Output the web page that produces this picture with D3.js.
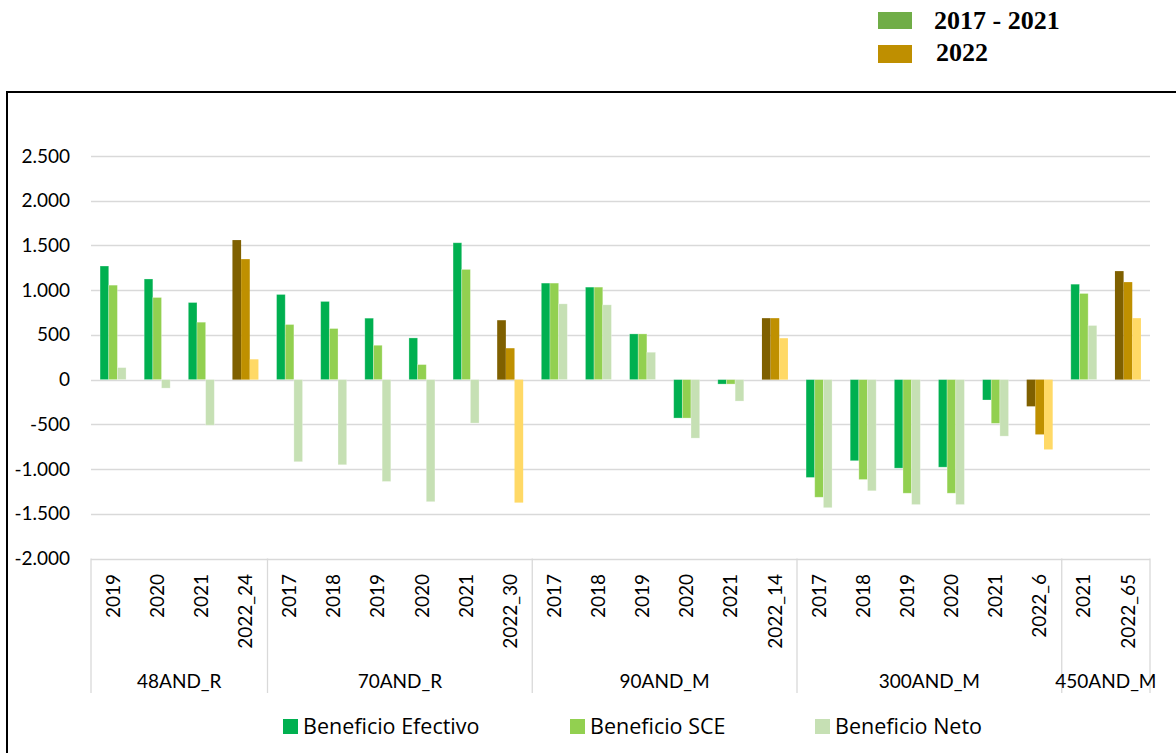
<!DOCTYPE html>
<html>
<head>
<meta charset="utf-8">
<script src="https://cdn.jsdelivr.net/npm/d3@7"></script>
<style>
  html, body { margin: 0; padding: 0; background: #fff; }
  svg { display: block; }
</style>
</head>
<body>
<svg id="chart" width="1176" height="753"></svg>
<script>
// ---------- data ----------
const categories = ["2019","2020","2021","2022_24",
  "2017","2018","2019","2020","2021","2022_30",
  "2017","2018","2019","2020","2021","2022_14",
  "2017","2018","2019","2020","2021","2022_6",
  "2021","2022_65"];
const categoryGroups = ["48AND_R","48AND_R","48AND_R","48AND_R",
  "70AND_R","70AND_R","70AND_R","70AND_R","70AND_R","70AND_R",
  "90AND_M","90AND_M","90AND_M","90AND_M","90AND_M","90AND_M",
  "300AND_M","300AND_M","300AND_M","300AND_M","300AND_M","300AND_M",
  "450AND_M","450AND_M"];
const groups = ["48AND_R","70AND_R","90AND_M","300AND_M","450AND_M"];
const seriesNames = ["Beneficio Efectivo","Beneficio SCE","Beneficio Neto"];
const efectivo = [1270,1125,862,1560, 952,874,687,466,1530,664, 1079,1034,511,-430,-50,687, -1094,-907,-990,-979,-228,-299, 1067,1213];
const sce      = [1056,918,642,1347, 616,571,384,168,1232,351, 1079,1034,511,-430,-50,687, -1315,-1117,-1270,-1270,-489,-613, 963,1090];
const neto     = [134,-95,-510,227, -918,-952,-1139,-1365,-486,-1375, 847,836,306,-654,-240,463, -1432,-1243,-1397,-1397,-632,-781, 605,687];
const yTicks = [-2000,-1500,-1000,-500,0,500,1000,1500,2000,2500];
const periodLabels = ["2017 - 2021","2022"];

// ---------- styles ----------
const colorsHist = ["#00B050","#92D050","#C6E0B4"];
const colors2022 = ["#7F6000","#BF9000","#FFD966"];
const periodColors = ["#70AD47","#BF8F00"];
const sansFont = "Lato, 'Noto Sans', sans-serif";
const legendFont = "'Open Sans', Lato, sans-serif";

const svg = d3.select("#chart");
const plotLeft = 91, plotRight = 1150, plotTop = 156, plotBottom = 558.5;

const x = d3.scaleBand().domain(d3.range(categories.length)).range([plotLeft, plotRight]).paddingInner(0).paddingOuter(0);
const y = d3.scaleLinear().domain([-2000, 2500]).range([plotBottom, plotTop]);
const inner = d3.scaleBand().domain([0,1,2]).range([0, 26]);

// outer frame
svg.append("rect").attr("x", 7).attr("y", 92).attr("width", 1200).attr("height", 700)
  .attr("fill", "none").attr("stroke", "#000").attr("stroke-width", 2);

// gridlines
svg.append("g").selectAll("line").data(yTicks).join("line")
  .attr("x1", plotLeft).attr("x2", plotRight)
  .attr("y1", d => Math.round(y(d)) + 0.5).attr("y2", d => Math.round(y(d)) + 0.5)
  .attr("stroke", "#D9D9D9").attr("stroke-width", 1.3);

// y axis labels
const yAxis = d3.axisLeft(y).tickValues(yTicks).tickSize(0).tickPadding(0)
  .tickFormat(d => d3.format(",")(d).replace(/,/g, ".").replace("−", "-"));
const yg = svg.append("g").attr("transform", "translate(70,0)").call(yAxis);
yg.select(".domain").remove();
yg.selectAll("text").attr("font-family", sansFont).attr("font-size", 19).attr("fill", "#000");

// bars
const seriesData = [efectivo, sce, neto];
seriesData.forEach((vals, si) => {
  svg.append("g").selectAll("rect").data(vals).join("rect")
    .attr("x", (d, i) => x(i) + (x.bandwidth() - 26) / 2 + inner(si))
    .attr("width", inner.bandwidth())
    .attr("y", d => y(Math.max(0, d)))
    .attr("height", d => Math.abs(y(d) - y(0)))
    .attr("fill", (d, i) => categories[i].startsWith("2022") ? colors2022[si] : colorsHist[si])
    .attr("stroke", (d, i) => categories[i].startsWith("2022") ? "none" : "#fff")
    .attr("stroke-opacity", 0.35).attr("stroke-width", 0.8);
});

// category axis (table style)
const axisG = svg.append("g");
const tableBottom = 693;
const bounds = [0];
groups.forEach(g => bounds.push(categoryGroups.lastIndexOf(g) + 1));
axisG.selectAll("line.sep").data(bounds).join("line")
  .attr("x1", d => d < categories.length ? x(d) : plotRight)
  .attr("x2", d => d < categories.length ? x(d) : plotRight)
  .attr("y1", plotBottom).attr("y2", tableBottom)
  .attr("stroke", "#D9D9D9").attr("stroke-width", 1.3);

axisG.selectAll("text.cat").data(categories).join("text")
  .attr("transform", (d, i) => `translate(${x(i) + x.bandwidth() / 2},574) rotate(-90)`)
  .attr("text-anchor", "end").attr("dy", "0.35em")
  .attr("font-family", sansFont).attr("font-size", 19).attr("fill", "#000")
  .text(d => d);

axisG.selectAll("text.grp").data(groups).join("text")
  .attr("x", g => {
    const a = categoryGroups.indexOf(g), b = categoryGroups.lastIndexOf(g);
    return (x(a) + x(b) + x.bandwidth()) / 2;
  })
  .attr("y", 681).attr("dy", "0.35em").attr("text-anchor", "middle")
  .attr("font-family", sansFont).attr("font-size", 19).attr("fill", "#000")
  .text(d => d);

// bottom legend
const legX = [283, 570, 815];
const lg = svg.append("g");
seriesNames.forEach((n, i) => {
  lg.append("rect").attr("x", legX[i]).attr("y", 719).attr("width", 15).attr("height", 15).attr("fill", colorsHist[i]);
  lg.append("text").attr("x", legX[i] + 20).attr("y", 726.5).attr("dy", "0.36em")
    .attr("font-family", legendFont).attr("font-size", 21.5).attr("fill", "#000").text(n);
});

// top legend (periods)
const tg = svg.append("g");
periodLabels.forEach((p, i) => {
  tg.append("rect").attr("x", 878).attr("y", [12, 45][i]).attr("width", 34).attr("height", [17, 18][i]).attr("fill", periodColors[i]);
  tg.append("text").attr("x", [934, 936][i]).attr("y", [29, 61][i])
    .attr("font-family", "'Liberation Serif', 'Times New Roman', serif").attr("font-weight", "bold")
    .attr("font-size", 26).attr("fill", "#000").text(p);
});
</script>
</body>
</html>
